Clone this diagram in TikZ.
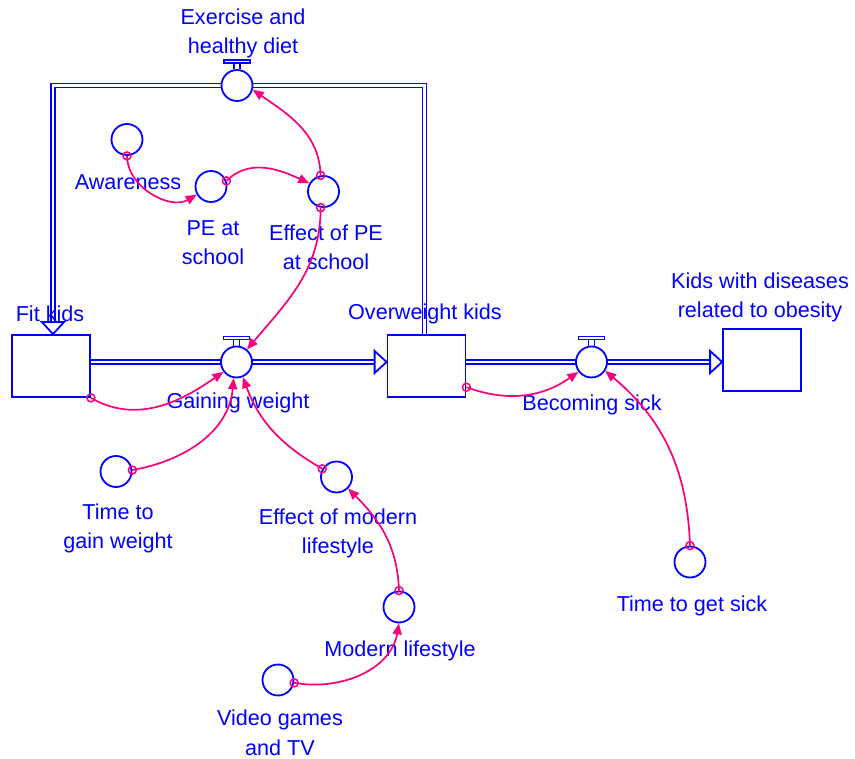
\documentclass[tikz,border=0pt]{standalone}
\usepackage{fontspec}
\setmainfont{Liberation Sans}
\usetikzlibrary{arrows.meta,calc,backgrounds}
\definecolor{sdblue}{RGB}{0,0,255}
\definecolor{sdpink}{RGB}{250,0,125}
\tikzset{
  pipe/.style={draw=sdblue,line width=1.8pt,double=white,double distance=2.2pt},
  flowhead/.style={draw=sdblue,line width=1.8pt,fill=white,line join=miter},
  stock/.style={draw=sdblue,line width=1.8pt,fill=white,rectangle,minimum width=78pt,minimum height=62pt,inner sep=0pt},
  valve/.style={draw=sdblue,line width=1.8pt,fill=white,circle,minimum size=31pt,inner sep=0pt},
  valvetop/.style={draw=sdblue,line width=1.3pt,fill=white},
  aux/.style={draw=sdblue,line width=1.8pt,circle,minimum size=31pt,inner sep=0pt},
  link/.style={draw=sdpink,line width=1.7pt,-{Triangle[length=11pt,width=9pt]}},
  tail/.style={draw=sdpink,line width=1.5pt},
  txt/.style={text=sdblue,font=\fontsize{21.6}{29.5}\selectfont,align=center,inner sep=0pt},
}
\begin{document}
\begin{tikzpicture}[x=1pt,y=1pt]
\useasboundingbox (0,0) rectangle (855,-759);
% stocks and valves
\node[stock] (fit) at (51,-366) {};
\node[stock] (over) at (426.5,-366) {};
\node[stock] (sick) at (762,-360) {};
\node[valve] (gain) at (236.5,-362) {};
\node[valve] (becom) at (591.5,-362) {};
\node[valve] (exer) at (237,-85.5) {};
\draw[valvetop] ($(gain.north)+(-3,0)$) -- ++(0,6) ($(gain.north)+(3,0)$) -- ++(0,6);
\draw[valvetop] ($(gain.north)+(-13,6)$) rectangle ($(gain.north)+(13,9)$);
\draw[valvetop] ($(becom.north)+(-3,0)$) -- ++(0,6) ($(becom.north)+(3,0)$) -- ++(0,6);
\draw[valvetop] ($(becom.north)+(-13,6)$) rectangle ($(becom.north)+(13,9)$);
\draw[valvetop] ($(exer.north)+(-3,0)$) -- ++(0,6) ($(exer.north)+(3,0)$) -- ++(0,6);
\draw[valvetop] ($(exer.north)+(-13,6)$) rectangle ($(exer.north)+(13,9)$);
% pipes
\coordinate (overtop) at ($(over.north)+(-2,0)$);
\coordinate (fittop) at ($(fit.north)+(2,0)$);
\coordinate (overin) at (over.west |- gain);
\coordinate (sickin) at (sick.west |- becom);
\begin{scope}[on background layer]
\draw[pipe] (fit.east |- gain) -- ($(overin)+(-12,0)$);
\draw[pipe] (over.east |- becom) -- ($(sickin)+(-12,0)$);
\draw[pipe] (overtop) |- (exer.center) -| ($(fittop)+(0,12)$);
\end{scope}
\draw[flowhead] ($(overin)+(-12,11)$) -- (overin) -- ($(overin)+(-12,-11)$) -- cycle;
\draw[flowhead] ($(sickin)+(-12,11)$) -- (sickin) -- ($(sickin)+(-12,-11)$) -- cycle;
\draw[flowhead] ($(fittop)+(-11,12)$) -- (fittop) -- ($(fittop)+(11,12)$) -- cycle;
% auxiliaries
\node[aux] (aware) at (127,-139.5) {};
\node[aux] (pe) at (211,-186.5) {};
\node[aux] (effpe) at (323.5,-191.5) {};
\node[aux] (tgain) at (116,-471.5) {};
\node[aux] (effml) at (336.5,-477) {};
\node[aux] (modern) at (399,-607) {};
\node[aux] (video) at (278,-680) {};
\node[aux] (tsick) at (690,-562) {};
% labels
\node[txt] (exerlbl) at (243,-33.5) {Exercise and\\healthy diet};
\node[txt] (fitlbl) at (50,-314) {Fit kids};
\node[txt] (overlbl) at (425,-314) {Overweight kids};
\node[txt] (sicklbl) at (760,-297.5) {Kids with diseases\\related to obesity};
\node[txt] (awarelbl) at (128,-182.5) {Awareness};
\node[txt] (pelbl) at (213,-242.5) {PE at\\school};
\node[txt] (effpelbl) at (326,-247.5) {Effect of PE\\at school};
\node[txt] (gainlbl) at (238,-402.5) {Gaining weight};
\node[txt] (becomlbl) at (592,-404.5) {Becoming sick};
\node[txt] (tgainlbl) at (118,-528.5) {Time to\\gain weight};
\node[txt] (effmllbl) at (338,-533.5) {Effect of modern\\lifestyle};
\node[txt] (modernlbl) at (400,-650.5) {Modern lifestyle};
\node[txt] (videolbl) at (280,-733) {Video games\\and TV};
\node[txt] (tsicklbl) at (692,-605.5) {Time to get sick};
% links
\draw[link] (aware.-90) to[out=-90,in=210] (pe.210);
\draw[link] (pe.20) to[out=45,in=155] (effpe.150);
\draw[link] (effpe.100) to[out=92,in=-35] (exer.-15);
\draw[link] (effpe.-100) to[out=-90,in=50] (gain.50);
\draw[link] (fit.south east) to[out=-30,in=215] (gain.217);
\draw[link] (tgain.5) to[out=10,in=-95] (gain.-100);
\draw[link] (effml.150) to[out=150,in=-70] (gain.-67);
\draw[link] (modern.90) to[out=92,in=-45] (effml.-45);
\draw[link] (video.-10) to[out=-10,in=-100] (modern.-90);
\draw[link] (over.-28) to[out=-20,in=215] (becom.217);
\draw[link] (tsick.90) to[out=92,in=-40] (becom.-33);
% link tails
\draw[tail] (aware.-90) circle (4);
\draw[tail] (pe.20) circle (4);
\draw[tail] (effpe.100) circle (4);
\draw[tail] (effpe.-100) circle (4);
\draw[tail] (fit.south east) circle (4);
\draw[tail] (tgain.5) circle (4);
\draw[tail] (effml.150) circle (4);
\draw[tail] (modern.90) circle (4);
\draw[tail] (video.-10) circle (4);
\draw[tail] (over.-28) circle (4);
\draw[tail] (tsick.90) circle (4);
\end{tikzpicture}
\end{document}
